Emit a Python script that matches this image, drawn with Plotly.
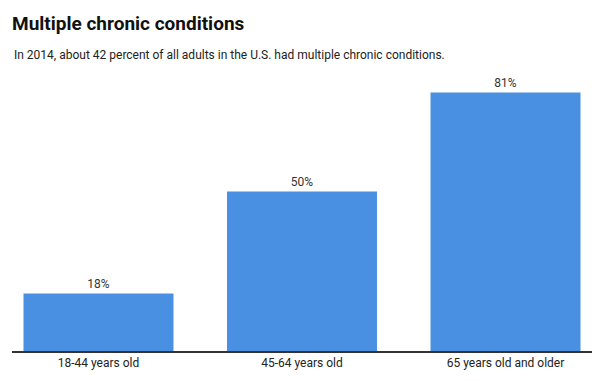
import plotly.graph_objects as go

categories = ["18-44 years old", "45-64 years old", "65 years old and older"]
values = [18, 50, 81]
labels = ["18%", "50%", "81%"]

title_text = "Multiple chronic conditions"
subtitle_text = "In 2014, about 42 percent of all adults in the U.S. had multiple chronic conditions."

# page body has an 8px default margin, so the figure is sized to fit the window
W, H = 600, 373
ml, mr, mt, mb = 4, 16, 72, 30
plot_h = H - mt - mb
base_y = H - mb  # baseline in figure pixels

fig = go.Figure(
    go.Bar(
        x=categories,
        y=values,
        text=labels,
        textposition="outside",
        textfont=dict(family="Roboto", size=12, color="#333333"),
        marker=dict(color="#4a90e2", line=dict(width=0)),
        width=0.737,
        cliponaxis=False,
        hoverinfo="skip",
    )
)

fig.update_layout(
    width=W,
    height=H,
    margin=dict(l=ml, r=mr, t=mt, b=mb, pad=0),
    paper_bgcolor="white",
    plot_bgcolor="white",
    showlegend=False,
    font=dict(family="Roboto", color="#222222"),
    title=dict(
        text=title_text,
        xref="container",
        yref="container",
        x=4 / W,
        xanchor="left",
        y=1 - 15 / H,
        yanchor="middle",
        font=dict(family="Roboto", size=19, color="#111111", weight="bold"),
        pad=dict(l=0, r=0, t=0, b=0),
    ),
    annotations=[
        dict(
            text=subtitle_text,
            xref="paper",
            yref="paper",
            x=0,
            xanchor="left",
            y=(base_y - 47) / plot_h,
            yanchor="middle",
            showarrow=False,
            font=dict(family="Roboto", size=12, color="#222222"),
        )
    ],
    xaxis=dict(
        type="category",
        range=[-0.425, 2.425],
        showline=True,
        linecolor="#333333",
        linewidth=2,
        showgrid=False,
        ticks="",
        tickfont=dict(family="Roboto", size=12, color="#222222"),
        fixedrange=True,
    ),
    yaxis=dict(
        range=[0, plot_h / 3.19],
        visible=False,
        showgrid=False,
        zeroline=False,
        fixedrange=True,
    ),
)

fig.write_html("out.html")
